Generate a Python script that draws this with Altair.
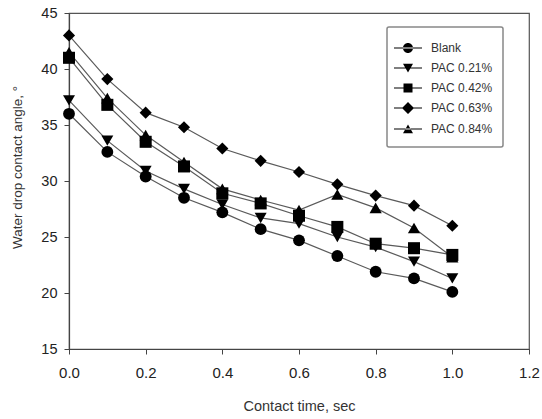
import altair as alt
import pandas as pd

time_sec = [0.0, 0.1, 0.2, 0.3, 0.4, 0.5, 0.6, 0.7, 0.8, 0.9, 1.0]
series_names = ["Blank", "PAC 0.21%", "PAC 0.42%", "PAC 0.63%", "PAC 0.84%"]
blank = [36.0, 32.6, 30.4, 28.5, 27.2, 25.7, 24.7, 23.3, 21.9, 21.3, 20.1]
pac_021 = [37.2, 33.6, 30.9, 29.3, 27.9, 26.7, 26.2, 25.0, 24.1, 22.8, 21.3]
pac_042 = [41.0, 36.8, 33.5, 31.3, 28.9, 28.0, 26.9, 25.9, 24.4, 24.0, 23.4]
pac_063 = [43.0, 39.1, 36.1, 34.8, 32.9, 31.8, 30.8, 29.7, 28.7, 27.8, 26.0]
pac_084 = [41.5, 37.4, 34.1, 31.7, 29.3, 28.3, 27.4, 28.8, 27.6, 25.8, 23.2]
x_ticks = [0.0, 0.2, 0.4, 0.6, 0.8, 1.0, 1.2]
y_ticks = [15, 20, 25, 30, 35, 40, 45]

rows = []
for name, vals in zip(series_names, [blank, pac_021, pac_042, pac_063, pac_084]):
    for t, v in zip(time_sec, vals):
        rows.append({"time": t, "angle": v, "series": name})
df = pd.DataFrame(rows)

FONT = "Liberation Sans"

x = alt.X("time:Q",
          scale=alt.Scale(domain=[0, 1.2], nice=False),
          axis=alt.Axis(values=x_ticks, format=".1f", title="Contact time, sec",
                        labelFontSize=15, titleFontSize=14.5, labelPadding=11,
                        labelFlush=False, titlePadding=19))
y = alt.Y("angle:Q",
          scale=alt.Scale(domain=[15, 45], nice=False, zero=False),
          axis=alt.Axis(values=y_ticks, title="Water drop contact angle, °",
                        labelFontSize=14.5, titleFontSize=13.5, labelPadding=7,
                        labelFlush=False, titlePadding=16, titleY=154))

plot_shapes = ["circle", "triangle-down", "square", "diamond", "triangle-up"]
plot_sizes = [140, 150, 110, 190, 150]
# thin filled bar standing in for the legend's line segment
line_seg = "M-1.4,-0.06L1.4,-0.06L1.4,0.06L-1.4,0.06Z"
legend_paths = [
    line_seg + "M-0.5,0A0.5,0.5 0 1,0 0.5,0A0.5,0.5 0 1,0 -0.5,0Z",
    line_seg + "M-0.5,-0.42L0.5,-0.42L0,0.45Z",
    line_seg + "M-0.45,-0.45L0.45,-0.45L0.45,0.45L-0.45,0.45Z",
    line_seg + "M0,-0.6L0.6,0L0,0.6L-0.6,0Z",
    line_seg + "M-0.5,0.42L0.5,0.42L0,-0.45Z",
]

base = alt.Chart(df)

lines = base.mark_line(color="#5a5a5a", strokeWidth=1.2).encode(
    x=x, y=y, detail="series:N", order="time:Q")

points = base.mark_point(filled=True, color="#000000", opacity=1).encode(
    x=x, y=y,
    shape=alt.Shape("series:N", scale=alt.Scale(domain=series_names, range=plot_shapes), legend=None),
    size=alt.Size("series:N", scale=alt.Scale(domain=series_names, range=plot_sizes), legend=None),
)

legend_layer = base.mark_point(filled=True, color="#000000", opacity=0).encode(
    x=x, y=y,
    shape=alt.Shape("series:N",
                    scale=alt.Scale(domain=series_names, range=legend_paths),
                    legend=alt.Legend(title=None, orient="none", legendX=318, legendY=14,
                                      symbolSize=400, symbolOpacity=1,
                                      symbolFillColor="#000000",
                                      labelFont=FONT, labelFontSize=12, labelColor="#333333",
                                      labelOffset=12, rowPadding=1, padding=10,
                                      strokeColor="#888888", fillColor="white", cornerRadius=2)),
)

chart = (
    alt.layer(lines, points, legend_layer)
    .resolve_scale(shape="independent")
    .properties(width=460, height=336,
                autosize=alt.AutoSizeParams(type="none"),
                padding={"left": 69, "top": 13, "right": 13, "bottom": 70},
                background="white")
    .configure_view(stroke="#555555", strokeWidth=1.2)
    .configure_axis(grid=False, domainColor="#444444", domainWidth=1.2,
                    tickColor="#444444", tickSize=5, tickWidth=1,
                    labelFont=FONT, titleFont=FONT, labelColor="#222222",
                    titleColor="#333333", titleFontWeight="normal")
    .configure_legend(strokeWidth=1.5)
)

chart.save("out.html", embed_options={"renderer": "svg", "actions": False})
